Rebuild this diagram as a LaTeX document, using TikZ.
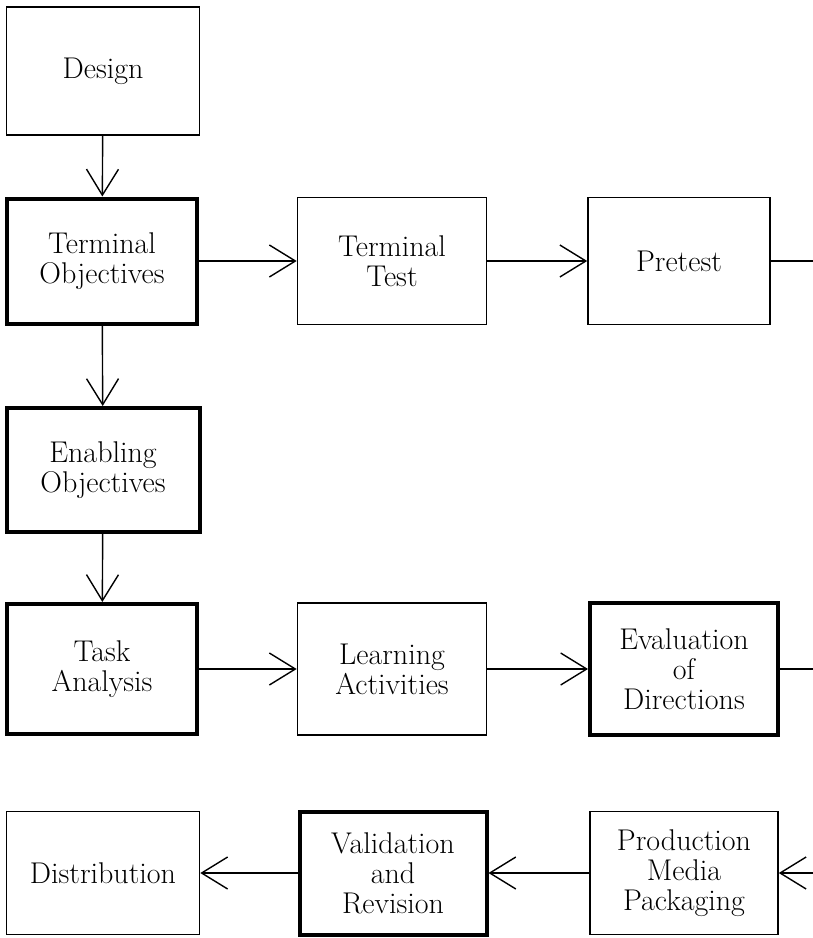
\documentclass[tikz,border=0pt]{standalone}
\usepackage{tikz}
\usetikzlibrary{arrows.meta}

\begin{document}
\begin{tikzpicture}[x=0.5pt,y=-0.5pt,
        thinbox/.style={draw=black, line width=0.8pt, align=center, inner sep=0pt,
            font=\fontsize{15}{15}\selectfont},
        thickbox/.style={thinbox, line width=2pt},
        flow/.style={black, line width=0.7pt, -{Straight Barb[length=13pt,width=16pt]}},
        offpage/.style={black, line width=0.7pt}]
                \useasboundingbox (0,0) rectangle (813,938);

                % Top column and row
                \node[thinbox, minimum width=96.5pt, minimum height=64pt] (design) at (103,71) {Design};
                \node[thickbox, minimum width=95pt, minimum height=62.5pt] (termobj) at (102,261) {Terminal\\Objectives};
                \node[thinbox, minimum width=94.5pt, minimum height=63.5pt] (termtest) at (392,261) {Terminal\\Test};
                \node[thinbox, minimum width=91pt, minimum height=63.5pt] (pretest) at (679,261) {Pretest};
                \coordinate (outtop) at (813,261);

                % Second column
                \node[thickbox, minimum width=96.5pt, minimum height=62pt] (enabobj) at (103,470) {Enabling\\Objectives};

                % Middle row
                \node[thickbox, minimum width=95pt, minimum height=65pt] (taskan) at (102,669) {Task\\Analysis};
                \node[thinbox, minimum width=94.5pt, minimum height=66pt] (learnact) at (392,669) {Learning\\Activities};
                \node[thickbox, minimum width=94pt, minimum height=66pt] (evaldir) at (684,669) {Evaluation\\of\\Directions};
                \coordinate (outmid) at (813,669);

                % Bottom row
                \node[thinbox, minimum width=96.5pt, minimum height=61.5pt] (distrib) at (103,873) {Distribution};
                \node[thickbox, minimum width=93.5pt, minimum height=61.5pt] (validrev) at (393,873) {Validation\\and\\Revision};
                \node[thinbox, minimum width=94pt, minimum height=61.5pt] (prodmedia) at (684,873) {Production\\Media\\Packaging};
                \coordinate (inbot) at (813,873);

                % Connectors
                \draw[flow] (design) -- (termobj);
                \draw[flow] (termobj) -- (termtest);
                \draw[flow] (termtest) -- (pretest);
                \draw[offpage] (pretest.east) -- (outtop);
                \draw[flow] (termobj) -- (enabobj);
                \draw[flow] (enabobj) -- (taskan);
                \draw[flow] (taskan) -- (learnact);
                \draw[flow] (learnact) -- (evaldir);
                \draw[offpage] (evaldir.east) -- (outmid);
                \draw[flow] (inbot) -- (prodmedia.east);
                \draw[flow] (prodmedia) -- (validrev);
                \draw[flow] (validrev) -- (distrib);
            \end{tikzpicture}
\end{document}
